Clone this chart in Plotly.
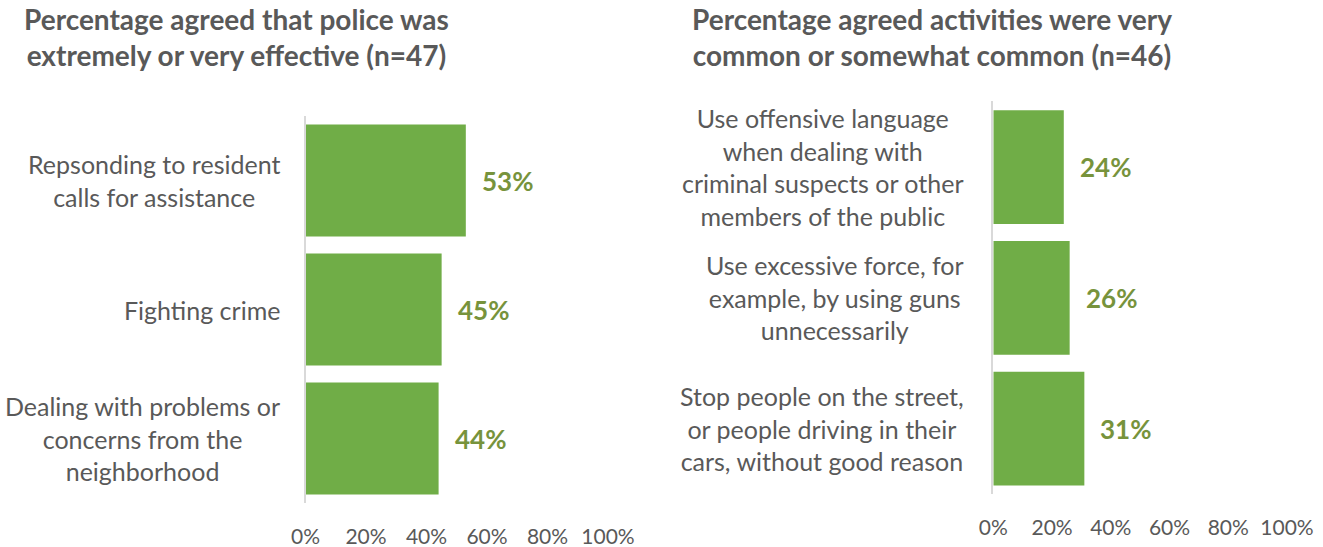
import plotly.graph_objects as go

W, H = 1323, 547

# ---- data ----
left_title = "Percentage agreed that police was<br>extremely or very effective (n=47)"
left_categories = [
    "Repsonding to resident<br>calls for assistance",
    "Fighting crime",
    "Dealing with problems or<br>concerns from the<br>neighborhood",
]
left_values = [53, 45, 44]

right_title = "Percentage agreed activities were very<br>common or somewhat common (n=46)"
right_categories = [
    "Use offensive language<br>when dealing with<br>criminal suspects or other<br>members of the public",
    "Use excessive force, for<br>example, by using guns<br>unnecessarily",
    "Stop people on the street,<br>or people driving in their<br>cars, without good reason",
]
right_values = [24, 26, 31]

tick_values = [0, 20, 40, 60, 80, 100]
tick_labels = ["0%", "20%", "40%", "60%", "80%", "100%"]

# ---- style ----
FONT = "Lato"
BAR = "#70AD47"
VALUE_COLOR = "#77933C"
TEXT = "#595959"
AXIS_LINE = "#D9D9D9"


def px_x(p):
    return p / W


def px_y(p):
    return 1 - p / H


fig = go.Figure()

fig.add_trace(go.Bar(
    x=left_values, y=left_categories, orientation="h",
    marker=dict(color=BAR, line=dict(width=0)),
    xaxis="x", yaxis="y", hoverinfo="skip", showlegend=False,
))
fig.add_trace(go.Bar(
    x=right_values, y=right_categories, orientation="h",
    marker=dict(color=BAR, line=dict(width=0)),
    xaxis="x2", yaxis="y2", hoverinfo="skip", showlegend=False,
))

xcommon = dict(
    range=[0, 100], tickmode="array", tickvals=tick_values, ticktext=tick_labels,
    showgrid=False, zeroline=False, showline=False, ticks="", fixedrange=True,
    automargin=False,
    tickfont=dict(family=FONT, size=21, color=TEXT), ticklabelstandoff=19,
)
ycommon = dict(
    type="category", autorange="reversed", showticklabels=False,
    showgrid=False, zeroline=False, showline=True, linecolor=AXIS_LINE,
    linewidth=1.5, ticks="", fixedrange=True, automargin=False,
)

fig.update_layout(
    width=W, height=H,
    margin=dict(l=0, r=0, t=0, b=0),
    paper_bgcolor="white", plot_bgcolor="white",
    bargap=0.13,
    xaxis=dict(domain=[px_x(305.5), px_x(608)], anchor="y", **xcommon),
    yaxis=dict(domain=[px_y(503), px_y(116)], anchor="x", **ycommon),
    xaxis2=dict(domain=[px_x(993.3), px_x(1287)], anchor="y2", **xcommon),
    yaxis2=dict(domain=[px_y(494), px_y(101.2)], anchor="x2", **ycommon),
)

annotations = []

# panel titles
for title, cx in [(left_title, 236), (right_title, 932)]:
    annotations.append(dict(
        text=f"<b>{title}</b>", xref="paper", yref="paper",
        x=px_x(cx), y=px_y(37), xanchor="center", yanchor="middle",
        align="center", showarrow=False,
        font=dict(family=FONT, size=28, color=TEXT),
    ))

# category labels (centered lines, right edge next to the axis)
for cats, right_edge, yref in [(left_categories, 282, "y"), (right_categories, 966, "y2")]:
    for c in cats:
        annotations.append(dict(
            text=c, xref="paper", yref=yref, x=px_x(right_edge), y=c,
            xanchor="right", yanchor="middle", align="center", showarrow=False,
            font=dict(family=FONT, size=25, color=TEXT),
        ))

# value labels beside each bar
for cats, vals, xref, yref in [(left_categories, left_values, "x", "y"),
                               (right_categories, right_values, "x2", "y2")]:
    for c, v in zip(cats, vals):
        annotations.append(dict(
            text=f"<b>{v}%</b>", xref=xref, yref=yref, x=v, y=c,
            xanchor="left", yanchor="middle", xshift=14, showarrow=False,
            font=dict(family=FONT, size=26, color=VALUE_COLOR),
        ))

fig.update_layout(annotations=annotations)

fig.write_html("out.html")
